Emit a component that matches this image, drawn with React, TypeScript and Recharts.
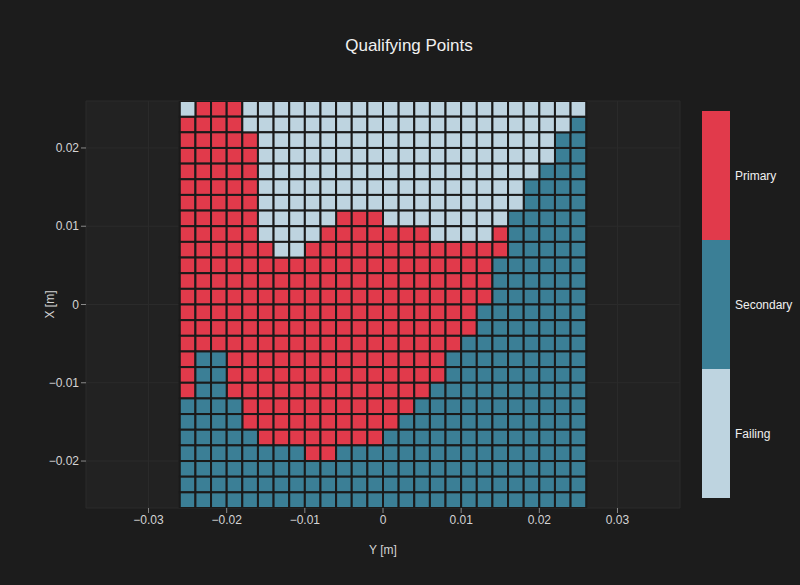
import React from "react";
import {
  ScatterChart,
  Scatter,
  XAxis,
  YAxis,
  CartesianGrid,
} from "recharts";

// category per cell, P = Primary, S = Secondary, F = Failing
// rows go top (X = 0.025) to bottom (X = -0.025), columns left (Y = -0.025) to right
const statusRows = [
  "FPPPFFFFFFFFF FFFFFFFFFFFFF",
  "PPPPFFFFFFFFF FFFFFFFFFFFFS",
  "PPPPPFFFFFFFF FFFFFFFFFFFSS",
  "PPPPPFFFFFFFF FFFFFFFFFFFSS",
  "PPPPPFFFFFFFF FFFFFFFFFFSSS",
  "PPPPPFFFFFFFF FFFFFFFFFSSSS",
  "PPPPPFFFFFFFF FFFFFFFFFSSSS",
  "PPPPPFFFFFPPP FFFFFFFFSSSSS",
  "PPPPPFFFFPPPP PPPFFFFPSSSSS",
  "PPPPPPFFPPPPP PPPPPPPPSSSSS",
  "PPPPPPPPPPPPP PPPPPPPSSSSSS",
  "PPPPPPPPPPPPP PPPPPPPSSSSSS",
  "PPPPPPPPPPPPP PPPPPPPSSSSSS",
  "PPPPPPPPPPPPP PPPPPPSSSSSSS",
  "PPPPPPPPPPPPP PPPPPPSSSSSSS",
  "PPPPPPPPPPPPP PPPPPSSSSSSSS",
  "PSSPPPPPPPPPP PPPPSSSSSSSSS",
  "PSSPPPPPPPPPP PPPPSSSSSSSSS",
  "PSSPPPPPPPPPP PPPSSSSSSSSSS",
  "SSSSPPPPPPPPP PPSSSSSSSSSSS",
  "SSSSPPPPPPPPP PSSSSSSSSSSSS",
  "SSSSSPPPPPPPP SSSSSSSSSSSSS",
  "SSSSSSSSPPSSS SSSSSSSSSSSSS",
  "SSSSSSSSSSSSS SSSSSSSSSSSSS",
  "SSSSSSSSSSSSS SSSSSSSSSSSSS",
  "SSSSSSSSSSSSS SSSSSSSSSSSSS",
];

const xValues = [
  0.025, 0.023, 0.021, 0.019, 0.017, 0.015, 0.013, 0.011, 0.009, 0.007, 0.005,
  0.003, 0.001, -0.001, -0.003, -0.005, -0.007, -0.009, -0.011, -0.013, -0.015,
  -0.017, -0.019, -0.021, -0.023, -0.025,
];
const yValues = [
  -0.025, -0.023, -0.021, -0.019, -0.017, -0.015, -0.013, -0.011, -0.009,
  -0.007, -0.005, -0.003, -0.001, 0.001, 0.003, 0.005, 0.007, 0.009, 0.011,
  0.013, 0.015, 0.017, 0.019, 0.021, 0.023, 0.025,
];

const categories = [
  { code: "P", name: "Primary", color: "#e13a4b" },
  { code: "S", name: "Secondary", color: "#3b7f96" },
  { code: "F", name: "Failing", color: "#bed4e0" },
];

const yTicks = [-0.03, -0.02, -0.01, 0, 0.01, 0.02, 0.03];
const xTicks = [-0.02, -0.01, 0, 0.01, 0.02];

const CELL = 0.002;
const X_DOMAIN: [number, number] = [-0.038, 0.038];
const Y_DOMAIN: [number, number] = [-0.026, 0.026];

const W = 800;
const H = 585;
const PLOT_LEFT = 86;
const PLOT_RIGHT = 680;
const PLOT_TOP = 101;
const PLOT_BOTTOM = 508;
const Y_AXIS_W = 60;
const X_AXIS_H = 50;

const cellW = (CELL * (PLOT_RIGHT - PLOT_LEFT)) / (X_DOMAIN[1] - X_DOMAIN[0]);
const cellH = (CELL * (PLOT_BOTTOM - PLOT_TOP)) / (Y_DOMAIN[1] - Y_DOMAIN[0]);

const fmt = (v: number) =>
  v === 0 ? "0" : (v < 0 ? "\u2212" : "") + String(Math.abs(v));

function cellsFor(code: string) {
  const out: { y: number; x: number }[] = [];
  statusRows.forEach((row, r) => {
    row
      .replace(/ /g, "")
      .split("")
      .forEach((c, col) => {
        if (c === code) out.push({ y: yValues[col], x: xValues[r] });
      });
  });
  return out;
}

const CellShape = (props: any) => {
  const { cx, cy, fill } = props;
  if (cx == null || cy == null) return null;
  return (
    <rect
      x={cx - cellW / 2}
      y={cy - cellH / 2}
      width={cellW}
      height={cellH}
      fill={fill}
      stroke="#1a1a1a"
      strokeWidth={2}
    />
  );
};

const font = "'Liberation Sans', Arial, sans-serif";
const tickStyle = { fill: "#d4d4d4", fontSize: 12, fontFamily: font };

export default function App() {
  return (
    <div
      style={{
        position: "absolute",
        left: 0,
        top: 0,
        width: W,
        height: H,
        background: "#1c1c1c",
        fontFamily: font,
      }}
    >
      <div
        style={{
          position: "absolute",
          left: 0,
          width: 818,
          top: 36,
          textAlign: "center",
          color: "#f0f0f0",
          fontSize: 17,
        }}
      >
        Qualifying Points
      </div>
      <ScatterChart
        width={W}
        height={H}
        margin={{
          top: PLOT_TOP,
          right: W - PLOT_RIGHT,
          bottom: H - PLOT_BOTTOM - X_AXIS_H,
          left: PLOT_LEFT - Y_AXIS_W,
        }}
      >
        <CartesianGrid stroke="#2b2b2b" fill="#222222" />
        <XAxis
          type="number"
          dataKey="y"
          domain={X_DOMAIN}
          ticks={yTicks}
          tickFormatter={fmt}
          allowDataOverflow
          height={X_AXIS_H}
          axisLine={false}
          tickLine={{ stroke: "#8a8a8a" }}
          tickSize={5}
          tick={tickStyle}
          label={{
            value: "Y [m]",
            position: "insideBottom",
            offset: 4,
            fill: "#d4d4d4",
            fontSize: 12,
            fontFamily: font,
          }}
        />
        <YAxis
          type="number"
          dataKey="x"
          domain={Y_DOMAIN}
          ticks={xTicks}
          tickFormatter={fmt}
          allowDataOverflow
          width={Y_AXIS_W}
          axisLine={false}
          tickLine={{ stroke: "#8a8a8a" }}
          tickSize={5}
          tick={tickStyle}
          label={{
            value: "X [m]",
            angle: -90,
            position: "insideLeft",
            offset: 24,
            fill: "#d4d4d4",
            fontSize: 12,
            fontFamily: font,
            style: { textAnchor: "middle" },
          }}
        />
        {categories.map((c) => (
          <Scatter
            key={c.code}
            name={c.name}
            data={cellsFor(c.code)}
            fill={c.color}
            shape={CellShape}
            isAnimationActive={false}
          />
        ))}
      </ScatterChart>
      <div
        style={{
          position: "absolute",
          left: 702,
          top: 111,
          width: 28,
          height: 387,
          display: "flex",
          flexDirection: "column",
        }}
      >
        {categories.map((c) => (
          <div key={c.code} style={{ flex: 1, background: c.color, position: "relative" }}>
            <span
              style={{
                position: "absolute",
                left: 33,
                top: "50%",
                transform: "translateY(-50%)",
                color: "#f0f0f0",
                fontSize: 12,
                whiteSpace: "nowrap",
              }}
            >
              {c.name}
            </span>
          </div>
        ))}
      </div>
    </div>
  );
}
